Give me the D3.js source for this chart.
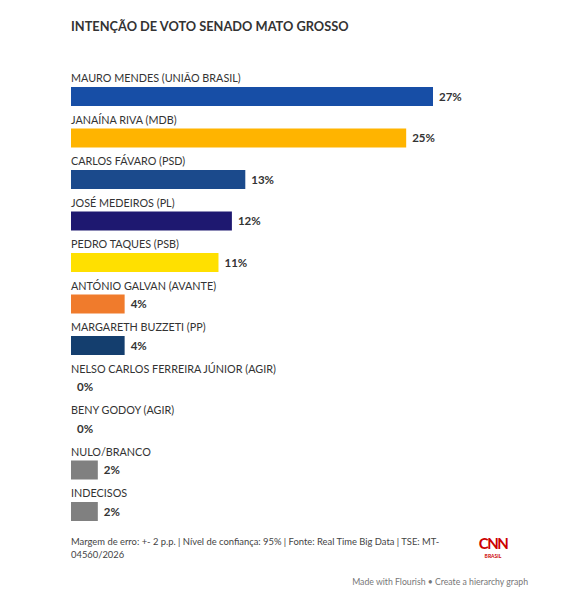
<!DOCTYPE html>
<html lang="pt">
<head>
<meta charset="UTF-8" />
<title>Intenção de voto Senado Mato Grosso</title>
<script src="https://d3js.org/d3.v7.min.js"></script>
<style>
  body { margin: 0; background: #fff; font-family: Lato, "Open Sans", sans-serif; }
  svg { display: block; }
  .label { font-size: 10.8px; fill: #333; }
  .value { font-size: 11.5px; font-weight: bold; fill: #333; }
  .title { font-size: 12.8px; font-weight: bold; fill: #333; }
  .note { font-size: 9.4px; fill: #444; }
  .credit { font-size: 8.7px; fill: #777; }
</style>
</head>
<body>
<div id="chart"></div>
<script>
const candidates = [
  'MAURO MENDES (UNIÃO BRASIL)',
  'JANAÍNA RIVA (MDB)',
  'CARLOS FÁVARO (PSD)',
  'JOSÉ MEDEIROS (PL)',
  'PEDRO TAQUES (PSB)',
  'ANTÓNIO GALVAN (AVANTE)',
  'MARGARETH BUZZETI (PP)',
  'NELSO CARLOS FERREIRA JÚNIOR (AGIR)',
  'BENY GODOY (AGIR)',
  'NULO/BRANCO',
  'INDECISOS'
];
const votes = [27, 25, 13, 12, 11, 4, 4, 0, 0, 2, 2];
const colors = ['#174ea6', '#ffb400', '#1b4a8c', '#1e1870', '#ffe000', '#f07b2c', '#143e6e', '#808080', '#808080', '#808080', '#808080'];

const width = 574, height = 600;
const left = 71;

const svg = d3.select('#chart').append('svg')
  .attr('width', width)
  .attr('height', height);

svg.append('text')
  .attr('class', 'title')
  .attr('x', left)
  .attr('y', 31)
  .text('INTENÇÃO DE VOTO SENADO MATO GROSSO');

const x = d3.scaleLinear()
  .domain([0, d3.max(votes)])
  .range([0, 362]);

const y = d3.scaleBand()
  .domain(candidates)
  .range([70, 70 + 41.5 * candidates.length])
  .paddingInner(0);

const rows = svg.selectAll('.row')
  .data(candidates.map((name, i) => ({ name, value: votes[i], color: colors[i] })))
  .enter().append('g')
  .attr('class', 'row')
  .attr('transform', d => `translate(${left},${y(d.name)})`);

rows.append('text')
  .attr('class', 'label')
  .attr('y', 12)
  .text(d => d.name);

rows.append('rect')
  .attr('y', 17)
  .attr('height', 19)
  .attr('width', d => x(d.value))
  .attr('fill', d => d.color);

rows.append('text')
  .attr('class', 'value')
  .attr('x', d => x(d.value) + 6)
  .attr('y', 26.5)
  .attr('dy', '0.35em')
  .text(d => d.value + '%');

// footer
svg.append('text').attr('class', 'note').attr('x', left).attr('y', 545)
  .text('Margem de erro: +- 2 p.p. | Nível de confiança: 95% | Fonte: Real Time Big Data | TSE: MT-');
svg.append('text').attr('class', 'note').attr('x', left).attr('y', 558)
  .text('04560/2026');

const logo = svg.append('g').attr('transform', 'translate(493,0)');
logo.append('text')
  .attr('y', 549)
  .attr('text-anchor', 'middle')
  .attr('fill', '#cc0000')
  .attr('font-size', 15)
  .attr('font-weight', 'bold')
  .attr('letter-spacing', -1.5)
  .text('CNN');
logo.append('text')
  .attr('y', 558)
  .attr('text-anchor', 'middle')
  .attr('fill', '#cc0000')
  .attr('font-size', 5)
  .attr('font-weight', 'bold')
  .text('BRASIL');

svg.append('text').attr('class', 'credit')
  .attr('x', 528).attr('y', 585)
  .attr('text-anchor', 'end')
  .text('Made with Flourish • Create a hierarchy graph');
</script>
</body>
</html>
